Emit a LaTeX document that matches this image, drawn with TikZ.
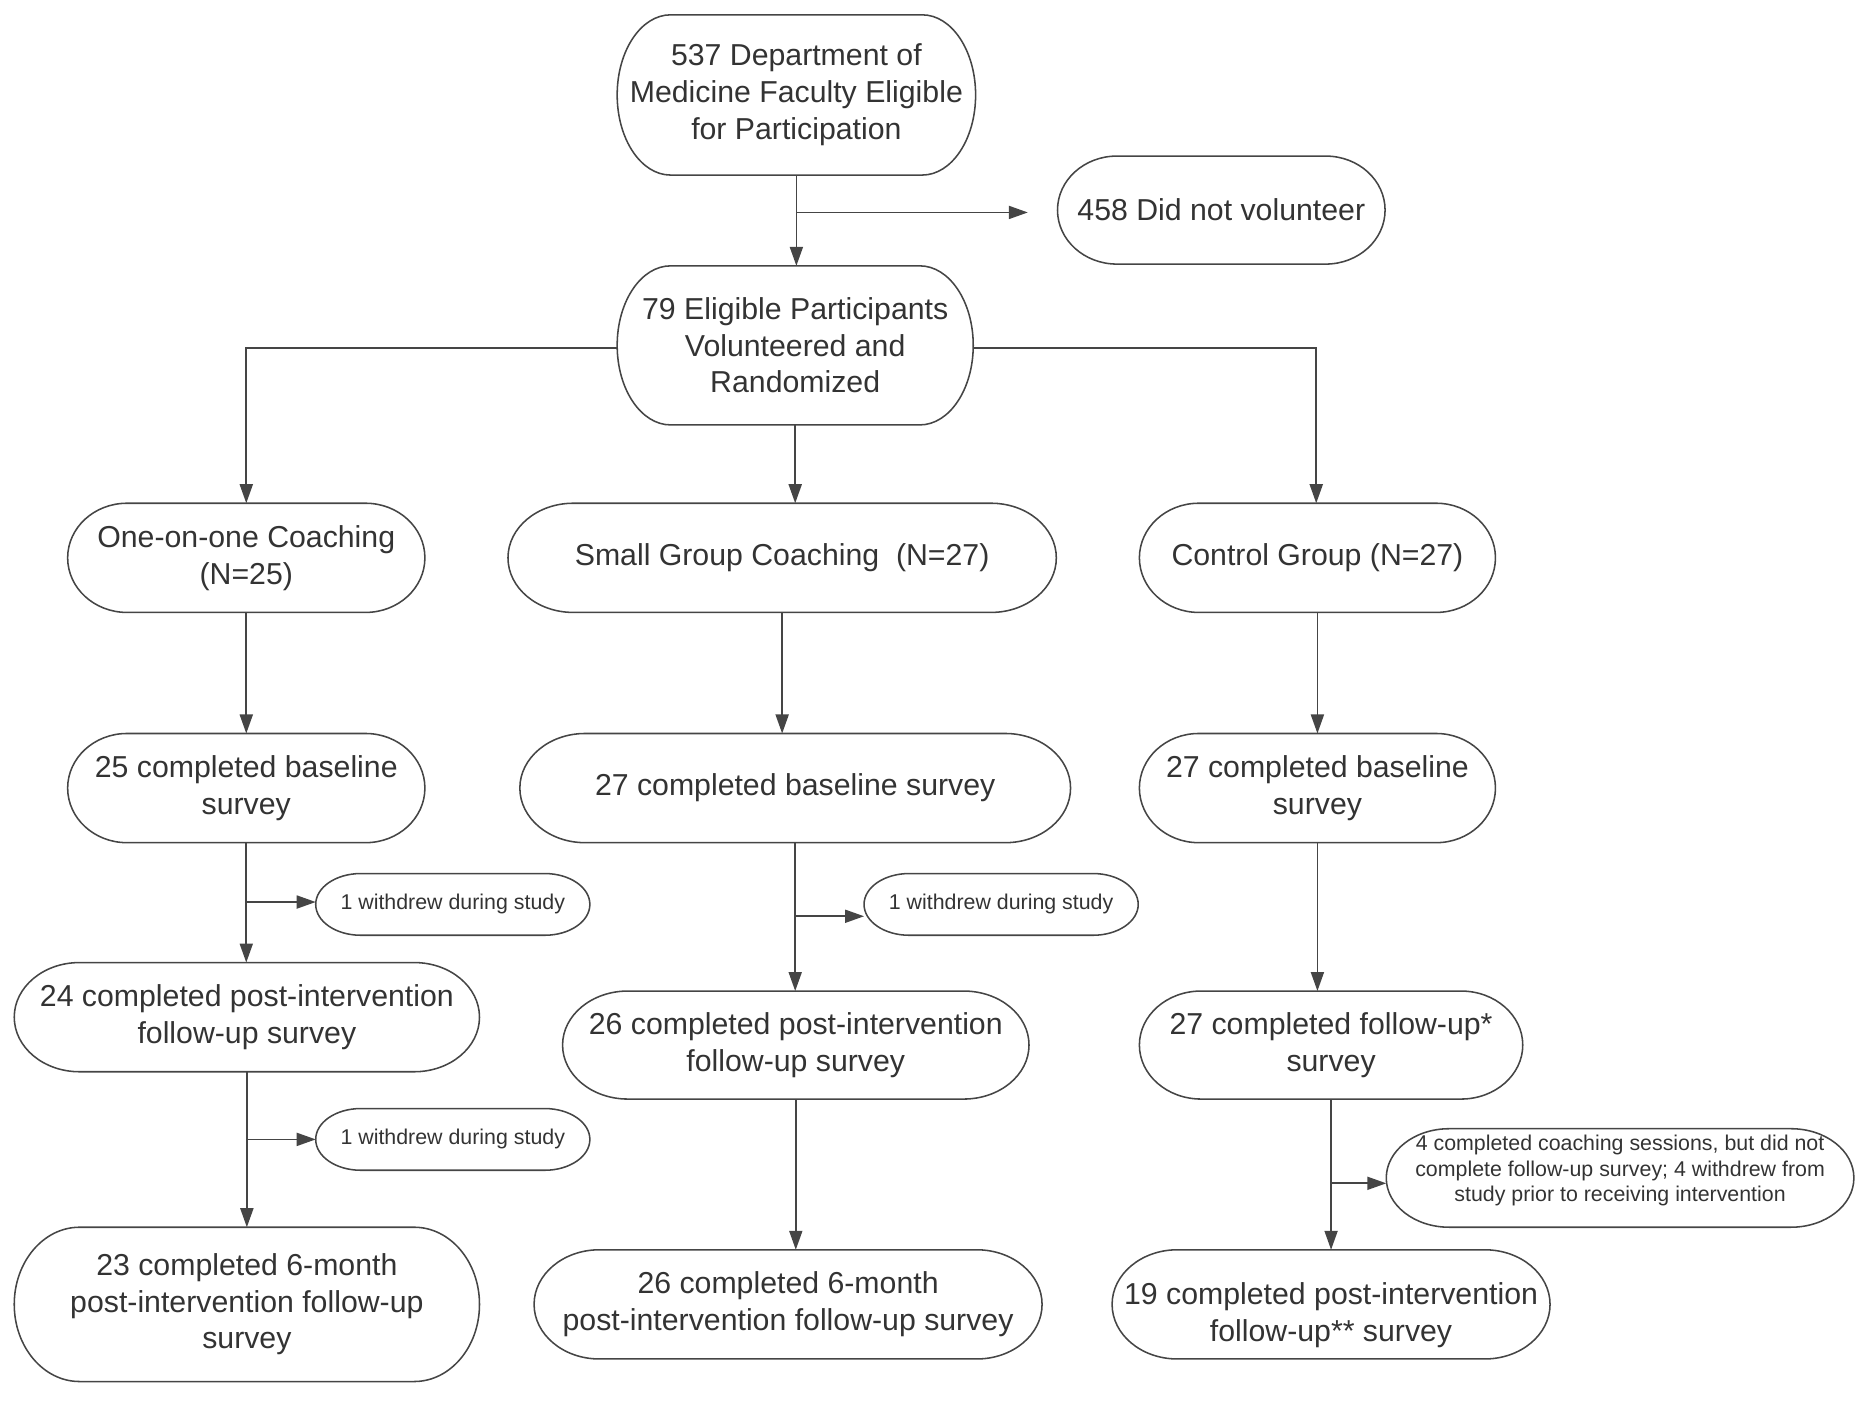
\documentclass[tikz,border=0pt]{standalone}
\usepackage{fontspec}
\setmainfont{Liberation Sans}
\usetikzlibrary{arrows.meta,calc}
\definecolor{txt}{HTML}{333333}
\definecolor{ln}{HTML}{454545}
\newcommand{\pill}[3]{\draw[outline] ([xshift=#2pt]#1.north west) -- ([xshift=-#2pt]#1.north east) arc[start angle=90,end angle=-90,x radius=#2pt,y radius=#3pt] -- ([xshift=#2pt]#1.south west) arc[start angle=270,end angle=90,x radius=#2pt,y radius=#3pt] -- cycle;}
\begin{document}
\begin{tikzpicture}[x=1pt,y=1pt,
  base/.style={inner sep=0pt,outer sep=0pt,align=center,text=txt,font=\fontsize{25.5}{31}\selectfont},
  small/.style={base,font=\fontsize{18}{21.5}\selectfont},
  arr/.style={draw=ln,line width=1.4pt,-{Triangle[length=16pt,width=11pt]}},
  outline/.style={draw=ln,line width=1.3pt}]
\useasboundingbox (0,0) rectangle (1568,-1185.5);
% nodes
\node[base,minimum width=302pt,minimum height=135pt] (n1) at (671,-80) {537 Department of\\Medicine Faculty Eligible\\for Participation};
\node[base,minimum width=276pt,minimum height=91pt] (n2) at (1029,-177) {458 Did not volunteer};
\node[base,minimum width=300pt,minimum height=134pt] (n3) at (670,-291) {79 Eligible Participants\\Volunteered and\\Randomized};
\node[base,minimum width=301pt,minimum height=92pt] (n4) at (207.5,-470) {One-on-one Coaching\\(N=25)};
\node[base,minimum width=462pt,minimum height=92pt] (n5) at (659,-470) {Small Group Coaching~~(N=27)};
\node[base,minimum width=300pt,minimum height=92pt] (n6) at (1110,-470) {Control Group (N=27)};
\node[base,minimum width=301pt,minimum height=92pt] (n7) at (207.5,-664) {25 completed baseline\\survey};
\node[base,minimum width=464pt,minimum height=92pt] (n8) at (670,-664) {27 completed baseline survey};
\node[base,minimum width=300pt,minimum height=92pt] (n9) at (1110,-664) {27 completed baseline\\survey};
\node[small,minimum width=231pt,minimum height=52pt] (w1) at (381.5,-762) {1 withdrew during study};
\node[base,minimum width=392pt,minimum height=92pt] (n11) at (208,-857) {24 completed post-intervention\\follow-up survey};
\node[small,minimum width=231pt,minimum height=52pt] (w2) at (381.5,-960) {1 withdrew during study};
\node[base,minimum width=392pt,minimum height=130pt] (n13) at (208,-1099) {23 completed 6-month\\post-intervention follow-up\\survey};
\node[small,minimum width=231pt,minimum height=52pt] (w3) at (843.5,-762) {1 withdrew during study};
\node[base,minimum width=393pt,minimum height=91pt] (n15) at (670.5,-880.5) {26 completed post-intervention\\follow-up survey};
\node[base,minimum width=428pt,minimum height=92pt] (n16) at (664,-1099) {26 completed 6-month\\post-intervention follow-up survey};
\node[base,minimum width=323pt,minimum height=91pt] (n17) at (1121.5,-880.5) {27 completed follow-up*\\survey};
\node[small,minimum width=394pt,minimum height=83pt] (n18) at (1365,-992.5) {};
\node[small] (t18) at ([yshift=6pt]n18.center) {4 completed coaching sessions, but did not\\complete follow-up survey; 4 withdrew from\\study prior to receiving intervention};
\node[base,minimum width=369pt,minimum height=92pt] (n19) at (1121.5,-1099) {};
\node[base] (t19) at ([yshift=-9pt]n19.center) {19 completed post-intervention\\follow-up** survey};
% outlines
\pill{n1}{45}{67.5}
\pill{n2}{50}{45.5}
\pill{n3}{45}{67}
\pill{n4}{50}{46}
\pill{n5}{55}{46}
\pill{n6}{50}{46}
\pill{n7}{50}{46}
\pill{n8}{55}{46}
\pill{n9}{50}{46}
\pill{w1}{38}{26}
\pill{n11}{55}{46}
\pill{w2}{38}{26}
\pill{n13}{55}{65}
\pill{w3}{38}{26}
\pill{n15}{55}{45.5}
\pill{n16}{55}{46}
\pill{n17}{52}{45.5}
\pill{n18}{53}{41.5}
\pill{n19}{55}{46}
% connectors
\coordinate (b1) at (671,-179);
\draw[arr] (n1.south) -- (n1.south |- n3.north);
\draw[arr] (b1) -- ([xshift=-25pt]b1 -| n2.west);
\draw[arr] ([yshift=-2pt]n3.west) -| (n4.north);
\draw[arr] ([yshift=-2pt]n3.east) -| ([xshift=-1pt]n6.north);
\draw[arr] (n3.south) -- (n3.south |- n5.north);
\draw[arr] (n4.south) -- (n7.north);
\draw[arr] (n5.south) -- (n5.south |- n8.north);
\draw[arr] (n6.south) -- (n9.north);
\coordinate (c1) at (n7.south |- 0,-760);
\draw[arr] (n7.south) -- (n7.south |- n11.north);
\draw[arr] (c1) -- (c1 -| w1.west);
\coordinate (c2) at (n11.south |- w2.west);
\draw[arr] (n11.south) -- (n13.north);
\draw[arr] (c2) -- (w2.west);
\coordinate (c3) at (n8.south |- 0,-772);
\draw[arr] (n8.south) -- (n8.south |- n15.north);
\draw[arr] (c3) -- (c3 -| w3.west);
\draw[arr] (n15.south) -- (n15.south |- n16.north);
\draw[arr] (n9.south) -- (n9.south |- n17.north);
\coordinate (c4) at (n17.south |- 0,-997);
\draw[arr] (n17.south) -- (n17.south |- n19.north);
\draw[arr] (c4) -- (c4 -| n18.west);
\end{tikzpicture}
\end{document}
